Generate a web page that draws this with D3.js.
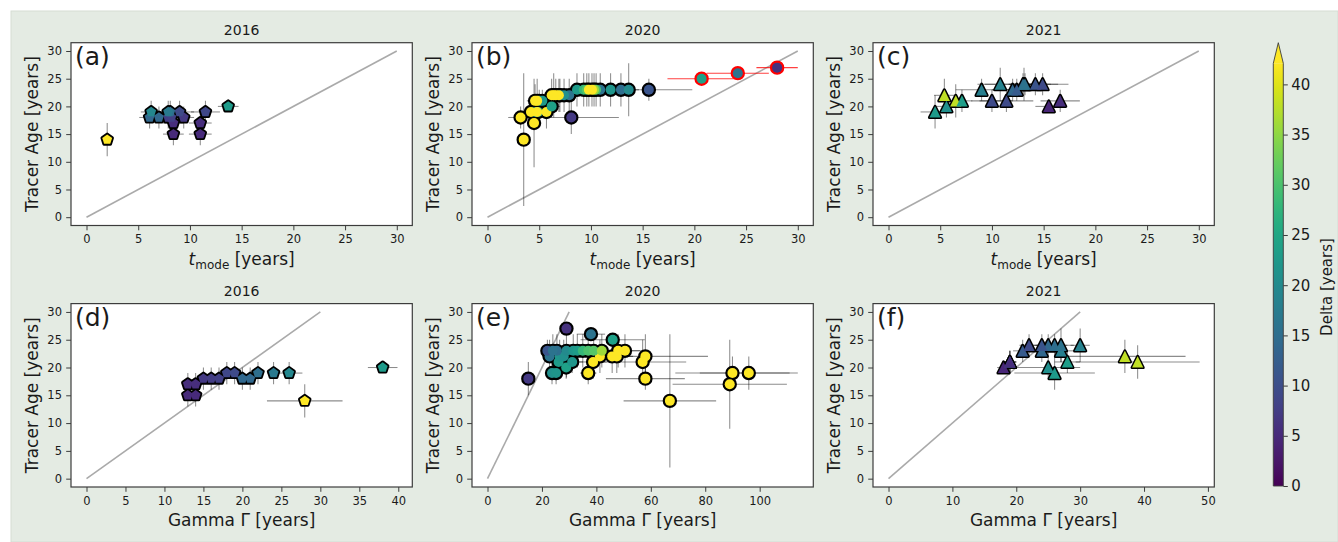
<!DOCTYPE html>
<html>
<head>
<meta charset="utf-8">
<script src="https://cdn.jsdelivr.net/npm/d3@7"></script>
<style>
  html, body { margin: 0; padding: 0; background: #ffffff; }
  svg { display: block; font-family: "DejaVu Sans", sans-serif; }
</style>
</head>
<body>
<svg id="fig" width="1338" height="542"></svg>
<script>
// ---------------- data ----------------
const years = ["2016", "2020", "2021"];
const panelLetters = ["(a)", "(b)", "(c)", "(d)", "(e)", "(f)"];
const ageTicks = [0, 5, 10, 15, 20, 25, 30];
const tmodeTicks = [0, 5, 10, 15, 20, 25, 30];
const gammaTicks2016 = [0, 5, 10, 15, 20, 25, 30, 35, 40];
const gammaTicks2020 = [0, 20, 40, 60, 80, 100];
const gammaTicks2021 = [0, 10, 20, 30, 40, 50];
const deltaTicks = [0, 5, 10, 15, 20, 25, 30, 35, 40];
const deltaMax = 42.1;

// 2016 wells (pentagons)
const age2016      = [14, 20, 17, 17, 15, 15, 18, 18, 18, 18, 18, 19, 19, 19, 19, 19];
const ageErr2016   = [3, 1, 2, 2, 2, 2, 2, 2, 2, 2, 2, 2, 2, 2, 2, 2];
const tmode2016    = [2.0, 13.7, 8.4, 11.0, 8.4, 11.0, 9.4, 7.9, 8.2, 6.1, 7.0, 11.5, 9.0, 8.1, 7.9, 6.25];
const tmodeErr2016 = [0.3, 1.0, 1.0, 1.1, 1.0, 1.1, 1.0, 1.2, 1.0, 1.0, 1.0, 1.4, 1.4, 1.0, 1.2, 1.0];
const gamma2016    = [28, 38, 13, 14, 13, 14, 15, 16, 17, 20, 21, 18, 19, 22, 24, 26];
const gammaErr2016 = [4.85, 1.9, 0.5, 0.5, 0.5, 0.5, 0.5, 0.5, 0.5, 0.6, 0.6, 0.5, 0.5, 0.6, 0.8, 1.7];
const delta2016    = [42.1, 23, 5.5, 5.5, 5, 5, 7, 7.5, 8, 14, 14, 9, 9.5, 15, 17, 19.5];

// 2020 wells (circles); flagged wells get a red outline in the t_mode panel
const age2020      = [14, 17, 18, 18, 19, 19, 19, 19, 19, 20, 21, 21, 21, 21,
                      22, 22, 22, 22, 22, 22, 22,
                      23, 23, 23, 23, 23, 23, 23, 23, 23, 23, 23, 23,
                      25, 26, 27];
const ageErr2020   = [12, 8, 2, 3, 2, 2, 2, 3, 3, 2, 2, 2, 3, 4,
                      3, 3, 3, 3, 3, 3, 4,
                      2, 3, 3, 4.8, 3, 3, 3, 3, 3, 3, 3, 3,
                      0.5, 0.5, 0.5];
const tmode2020    = [3.5, 4.5, 3.2, 8.1, 4.6, 4.9, 4.2, 4.8, 5.7, 6.2, 5.3, 5.0, 4.6, 4.8,
                      7.9, 7.0, 7.4, 6.2, 6.6, 6.9, 6.4,
                      15.6, 12.9, 10.9, 13.65, 11.9, 8.65, 9.3, 10.5, 9.6, 10.3, 10.1, 9.8,
                      20.7, 24.2, 28.0];
const tmodeErr2020 = [0.3, 0.5, 1.2, 4.6, 0.8, 0.8, 1.0, 0.6, 0.6, 0.8, 0.8, 0.8, 0.8, 0.8,
                      1.0, 1.0, 1.0, 1.0, 1.0, 1.0, 1.0,
                      4.2, 1.0, 1.0, 1.0, 1.0, 1.0, 1.0, 1.0, 1.0, 1.0, 1.0, 1.0,
                      3.3, 3.0, 2.0];
const gamma2020    = [67, 89, 58, 15, 23.7, 25.2, 37, 90, 96, 28.9, 26.1, 31.1, 38.8, 57,
                      22.8, 26.5, 28, 41.3, 45.8, 47.5, 58,
                      22, 25.5, 24, 29, 31.5, 33, 35, 37, 39, 42, 48, 50.5,
                      46, 38, 29];
const gammaErr2020 = [17, 21, 14.5, 1.5, 2, 2, 3, 21, 18, 2, 3, 4, 5, 16,
                      2, 3, 3, 4, 6, 6, 23,
                      2, 3, 3, 3, 4, 4, 5, 5, 5, 6, 8, 8,
                      11.8, 5.2, 2];
const delta2020    = [42.1, 42.1, 42.1, 7, 21, 22, 42.1, 42.1, 42.1, 24, 23, 22, 42.1, 42.1,
                      16, 22, 21, 42.1, 42.1, 42.1, 42.1,
                      11, 15, 16, 20, 22, 23, 28, 30, 31, 36, 42.1, 42.1,
                      24, 16, 6];
const flagged2020  = [0, 0, 0, 0, 0, 0, 0, 0, 0, 0, 0, 0, 0, 0,
                      0, 0, 0, 0, 0, 0, 0,
                      0, 0, 0, 0, 0, 0, 0, 0, 0, 0, 0, 0,
                      1, 1, 1];

// 2021 wells (triangles)
const age2021      = [19, 20, 20, 22, 21, 21, 21, 21, 21, 23, 23, 23, 24, 24, 24, 24, 24, 24];
const ageErr2021   = [3, 2, 1, 3, 3, 2, 2, 2, 2, 2, 2, 2, 3, 2, 2, 2, 2, 3];
const tmode2021    = [4.5, 5.6, 15.5, 5.4, 6.5, 7.1, 10.0, 11.4, 16.6, 9.0, 12.0, 12.4, 10.8, 13.0, 13.2, 14.2, 14.9, 13.1];
const tmodeErr2021 = [1.4, 1.0, 1.3, 1.0, 1.0, 1.0, 2.0, 2.6, 1.9, 2.5, 2.0, 1.5, 1.5, 4.4, 1.5, 1.5, 1.5, 1.5];
const gamma2021    = [26, 25, 18, 37, 39, 28, 19, 19, 19, 27, 24, 21, 30, 25, 26, 24, 22, 27];
const gammaErr2021 = [6.3, 5, 1, 9.5, 9.7, 2, 1, 1, 1, 2, 2, 1.5, 1.5, 2, 2, 2, 1.5, 2];
const delta2021    = [23, 21, 4.5, 38, 38, 23.5, 9.5, 9.5, 5.5, 18, 14, 12, 18.5, 14, 15, 11, 9.5, 16];

// ---------------- helpers ----------------
const color = d => d3.interpolateViridis(Math.max(0, Math.min(1, d / deltaMax)));

function markerPath(kind) {
  if (kind === "circle") {
    const r = 5.0;
    return `M${r},0A${r},${r} 0 1,1 ${-r},0A${r},${r} 0 1,1 ${r},0Z`;
  }
  if (kind === "pentagon") {
    const R = 5.2;
    const pts = d3.range(5).map(k => {
      const a = (90 + 72 * k) * Math.PI / 180;
      return [R * Math.cos(a), -R * Math.sin(a)];
    });
    return "M" + pts.map(p => p.join(",")).join("L") + "Z";
  }
  const a = 5.6; // triangle up
  return `M0,${-a}L${a},${a}L${-a},${a}Z`;
}
const edgeWidth = { circle: 4.4, pentagon: 3.6, triangle: 3.0 };

const svg = d3.select("#fig");
const textColor = "#1a1a1a";
const spineColor = "#3c3c3c";

// figure background
svg.append("rect")
  .attr("x", 11).attr("y", 11).attr("width", 1338 - 11).attr("height", 542 - 11)
  .attr("fill", "#e4ebe3").attr("stroke", "#d5ddd4").attr("stroke-width", 1);

const colLeft = [71, 472, 873];
const axW = 341.3;
const rowTop = [42.7, 303.6];
const rowH = [182.8, 183.4];

function zip(xs, xe, ys, ye, ds, fl) {
  return xs.map((x, i) => ({ x, xe: xe[i], y: ys[i], ye: ye[i], d: ds[i], flag: fl ? fl[i] : 0 }));
}

const panels = [
  { row: 0, col: 0, title: years[0], letter: panelLetters[0], kind: "pentagon", xDom: [-1.5, 31.5], xTicks: tmodeTicks, xlab: "tmode",
    pts: zip(tmode2016, tmodeErr2016, age2016, ageErr2016, delta2016) },
  { row: 0, col: 1, title: years[1], letter: panelLetters[1], kind: "circle", xDom: [-1.5, 31.5], xTicks: tmodeTicks, xlab: "tmode",
    pts: zip(tmode2020, tmodeErr2020, age2020, ageErr2020, delta2020, flagged2020), useFlag: true },
  { row: 0, col: 2, title: years[2], letter: panelLetters[2], kind: "triangle", xDom: [-1.5, 31.5], xTicks: tmodeTicks, xlab: "tmode",
    pts: zip(tmode2021, tmodeErr2021, age2021, ageErr2021, delta2021) },
  { row: 1, col: 0, title: years[0], letter: panelLetters[3], kind: "pentagon", xDom: [-1.99, 41.8], xTicks: gammaTicks2016, xlab: "gamma",
    pts: zip(gamma2016, gammaErr2016, age2016, ageErr2016, delta2016) },
  { row: 1, col: 1, title: years[1], letter: panelLetters[4], kind: "circle", xDom: [-5.7, 119.7], xTicks: gammaTicks2020, xlab: "gamma",
    pts: zip(gamma2020, gammaErr2020, age2020, ageErr2020, delta2020) },
  { row: 1, col: 2, title: years[2], letter: panelLetters[5], kind: "triangle", xDom: [-2.43, 51.0], xTicks: gammaTicks2021, xlab: "gamma",
    pts: zip(gamma2021, gammaErr2021, age2021, ageErr2021, delta2021) }
];

panels.forEach(p => {
  const left = colLeft[p.col], top = rowTop[p.row], h = rowH[p.row];
  const x = d3.scaleLinear().domain(p.xDom).range([left, left + axW]);
  const y = d3.scaleLinear().domain([-1.5, 31.5]).range([top + h, top]);
  const g = svg.append("g");

  // plot area
  g.append("rect").attr("x", left).attr("y", top).attr("width", axW).attr("height", h).attr("fill", "#ffffff");

  // 1:1 reference line
  g.append("line")
    .attr("x1", x(0)).attr("y1", y(0)).attr("x2", x(30)).attr("y2", y(30))
    .attr("stroke", "#aaaaaa").attr("stroke-width", 1.6);

  // error bars
  const eb = g.append("g");
  p.pts.forEach(d => {
    const red = p.useFlag && d.flag;
    eb.append("line")
      .attr("x1", x(d.x - d.xe)).attr("x2", x(d.x + d.xe)).attr("y1", y(d.y)).attr("y2", y(d.y))
      .attr("stroke", red ? "#ff0000" : "#000000").attr("stroke-opacity", red ? 0.75 : 0.45)
      .attr("stroke-width", 1.05);
    eb.append("line")
      .attr("x1", x(d.x)).attr("x2", x(d.x)).attr("y1", y(d.y - d.ye)).attr("y2", y(d.y + d.ye))
      .attr("stroke", "#000000").attr("stroke-opacity", 0.45).attr("stroke-width", 1.05);
  });

  // markers: outline layer first, fills on top
  const path = markerPath(p.kind);
  g.append("g").selectAll("path").data(p.pts).join("path")
    .attr("d", path)
    .attr("transform", d => `translate(${x(d.x)},${y(d.y)})`)
    .attr("fill", "#000000")
    .attr("stroke", d => (p.useFlag && d.flag) ? "#ff0000" : "#000000")
    .attr("stroke-width", edgeWidth[p.kind])
    .attr("stroke-linejoin", "round");
  g.append("g").selectAll("path").data(p.pts).join("path")
    .attr("d", path)
    .attr("transform", d => `translate(${x(d.x)},${y(d.y)})`)
    .attr("fill", d => color(d.d));

  // axes
  const xAxis = g.append("g").attr("transform", `translate(0,${top + h})`)
    .call(d3.axisBottom(x).tickValues(p.xTicks).tickFormat(d3.format("d")).tickSize(4.8).tickPadding(4.6));
  const yAxis = g.append("g").attr("transform", `translate(${left},0)`)
    .call(d3.axisLeft(y).tickValues(ageTicks).tickFormat(d3.format("d")).tickSize(4.8).tickPadding(4.2));
  [xAxis, yAxis].forEach(a => {
    a.select(".domain").remove();
    a.selectAll(".tick line").attr("stroke", spineColor).attr("stroke-width", 1);
    a.selectAll(".tick text").attr("fill", textColor).style("font-size", "11.5px")
      .style("font-family", "'DejaVu Sans', sans-serif");
  });

  // frame
  g.append("rect").attr("x", left).attr("y", top).attr("width", axW).attr("height", h)
    .attr("fill", "none").attr("stroke", spineColor).attr("stroke-width", 1.2);

  // title
  g.append("text").attr("x", left + axW / 2).attr("y", top - 8)
    .attr("text-anchor", "middle").attr("fill", textColor).style("font-size", "14px").text(p.title);

  // panel letter
  g.append("text").attr("x", left + 4).attr("y", top + 22.5)
    .attr("fill", textColor).style("font-size", "25px").text(p.letter);

  // y label
  g.append("text")
    .attr("transform", `translate(${left - 33.5},${top + h / 2}) rotate(-90)`)
    .attr("text-anchor", "middle").attr("fill", textColor).style("font-size", "17px")
    .text("Tracer Age [years]");

  // x label
  const xl = g.append("text").attr("x", left + axW / 2).attr("y", top + h + 39)
    .attr("text-anchor", "middle").attr("fill", textColor).style("font-size", "17px");
  if (p.xlab === "tmode") {
    xl.append("tspan").style("font-style", "italic").text("t");
    xl.append("tspan").attr("dy", 4).style("font-size", "12px").text("mode");
    xl.append("tspan").attr("dy", -4).text("\u00a0[years]");
  } else {
    xl.text("Gamma \u0393 [years]");
  }
});

// ---------------- colorbar ----------------
const cbX = 1273.3, cbW = 10, cbTop = 63.3, cbBot = 486, cbTip = 42.7;
const cScale = d3.scaleLinear().domain([0, deltaMax]).range([cbBot, cbTop]);
const defs = svg.append("defs");
const grad = defs.append("linearGradient").attr("id", "viridisGrad")
  .attr("x1", 0).attr("y1", 1).attr("x2", 0).attr("y2", 0);
d3.range(0, 1.0001, 0.02).forEach(t => {
  grad.append("stop").attr("offset", t).attr("stop-color", d3.interpolateViridis(t));
});
svg.append("rect").attr("x", cbX).attr("y", cbTop).attr("width", cbW).attr("height", cbBot - cbTop)
  .attr("fill", "url(#viridisGrad)");
svg.append("path")
  .attr("d", `M${cbX},${cbTop}L${cbX + cbW / 2},${cbTip}L${cbX + cbW},${cbTop}Z`)
  .attr("fill", d3.interpolateViridis(1));
svg.append("path")
  .attr("d", `M${cbX},${cbBot}L${cbX},${cbTop}L${cbX + cbW / 2},${cbTip}L${cbX + cbW},${cbTop}L${cbX + cbW},${cbBot}Z`)
  .attr("fill", "none").attr("stroke", spineColor).attr("stroke-width", 0.9);
const cAxis = svg.append("g").attr("transform", `translate(${cbX + cbW},0)`)
  .call(d3.axisRight(cScale).tickValues(deltaTicks).tickFormat(d3.format("d")).tickSize(4.5).tickPadding(3.5));
cAxis.select(".domain").remove();
cAxis.selectAll(".tick line").attr("stroke", spineColor);
cAxis.selectAll(".tick text").attr("fill", textColor).style("font-size", "15px")
  .style("font-family", "'DejaVu Sans', sans-serif");
svg.append("text")
  .attr("transform", `translate(1331.5,287) rotate(-90)`)
  .attr("text-anchor", "middle").attr("fill", textColor).style("font-size", "15px")
  .text("Delta [years]");
</script>
</body>
</html>
